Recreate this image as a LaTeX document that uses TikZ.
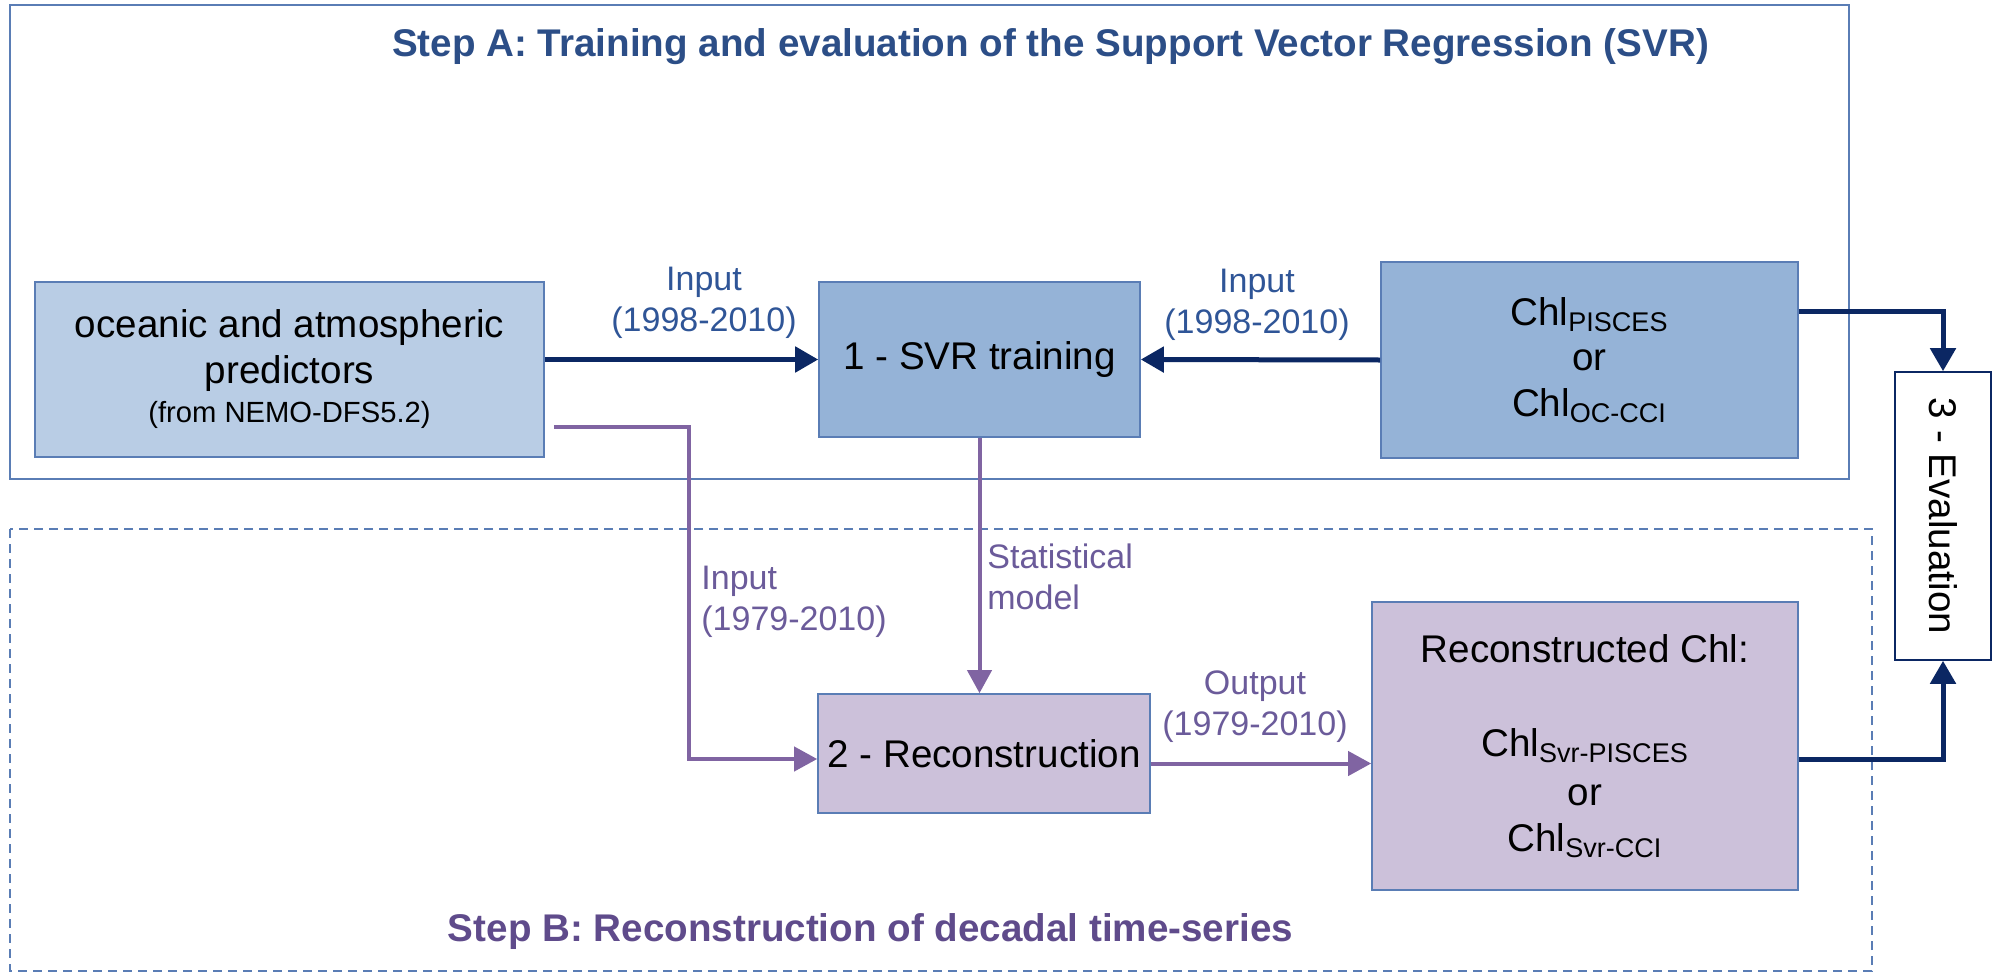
\documentclass[tikz,border=0pt]{standalone}
\usepackage{fontspec}
\setmainfont{Liberation Sans}
\usepackage{graphicx}
\usetikzlibrary{arrows.meta,calc}
\definecolor{titleA}{HTML}{2C4E87}
\definecolor{titleB}{HTML}{5F4B8B}
\definecolor{lblA}{HTML}{2F5597}
\definecolor{lblB}{HTML}{6B5B9A}
\definecolor{navy}{HTML}{0B2763}
\definecolor{purp}{HTML}{8064A2}
\definecolor{fillLB}{HTML}{B9CDE5}
\definecolor{fillMB}{HTML}{95B3D7}
\definecolor{fillPU}{HTML}{CCC1DA}
\definecolor{edge}{HTML}{5A7DB5}
\begin{document}
\begin{tikzpicture}[x=0.5pt,y=-0.5pt,
  box/.style={draw=edge,line width=0.8pt,inner sep=0pt,align=center,
    font=\fontsize{19.3}{22.75}\selectfont},
  navyarrow/.style={draw=navy,line width=2.5pt,-{Triangle[length=11.5pt,width=12.5pt]}},
  purparrow/.style={draw=purp,line width=2pt,-{Triangle[length=11.5pt,width=12pt]}},
  lbl/.style={inner sep=0pt,font=\fontsize{17}{20.5}\selectfont},
  ttl/.style={inner sep=0pt,font=\bfseries\fontsize{19.3}{23}\selectfont}]
\useasboundingbox (0,0) rectangle (1995,979);
% frames
\draw[edge,line width=1pt] (10,5) rectangle (1849,479);
\draw[edge,line width=0.75pt,dash pattern=on 4.5pt off 3pt] (10,529) rectangle (1872,971);
% titles
\node[ttl,text=titleA,anchor=base] (tA) at (1050.5,57) {Step A: Training and evaluation of the Support Vector Regression (SVR)};
\node[ttl,text=titleB,anchor=base] (tB) at (870.5,941) {Step B: Reconstruction of decadal time-series};
% boxes
\node[box,fill=fillLB,minimum width=254.5pt,minimum height=87.5pt] (pred) at (289.5,369.5)
  {oceanic and atmospheric\\predictors\\[-3pt]{\fontsize{14.6}{17}\selectfont (from NEMO-DFS5.2)}};
\node[box,fill=fillMB,minimum width=160.5pt,minimum height=77.5pt] (svr) at (979.5,359.5) {1 - SVR training};
\node[box,fill=fillMB,minimum width=208.5pt,minimum height=98pt] (chl) at (1589.5,360)
  {Chl\textsubscript{PISCES}\\or\\Chl\textsubscript{OC-CCI}};
\node[box,fill=fillPU,minimum width=166pt,minimum height=59.5pt] (recon) at (984,753.5) {2 - Reconstruction};
\node[box,fill=fillPU,minimum width=213pt,minimum height=144pt] (rchl) at (1585,746)
  {Reconstructed Chl:\\[24pt]Chl\textsubscript{Svr-PISCES}\\[2pt]or\\Chl\textsubscript{Svr-CCI}};
\node[box,draw=navy,fill=white,minimum width=48pt,minimum height=144pt] (eval) at (1943,516)
  {\rotatebox{-90}{3 - Evaluation}};
% connectors
\draw[navyarrow] (pred.east|-svr.west) -- (svr.west);
\draw[navyarrow] (chl.west) -- (svr.east);
\coordinate (chlout) at ($(chl.east)+(0,-49)$);
\draw[navyarrow] (chlout) -| (eval.north);
\coordinate (rchlout) at ($(rchl.east)+(0,13)$);
\draw[navyarrow] (rchlout) -| (eval.south);
\coordinate (pstart) at ($(pred.east)+(9,57.5)$);
\coordinate (pbend) at (689,759);
\draw[purparrow] (pstart) -| (pbend) -- (recon.west|-pbend);
\draw[purparrow] (svr.south) -- (svr.south|-recon.north);
\coordinate (rout) at ($(recon.east)+(0,10)$);
\draw[purparrow] (rout) -- (rchl.west|-rout);
% labels
\node[lbl,text=lblA,align=center,anchor=north] (l1) at (704,267) {Input\\(1998-2010)};
\node[lbl,text=lblA,align=center,anchor=north] (l2) at (1257,269) {Input\\(1998-2010)};
\node[lbl,text=lblB,align=left,anchor=north west] (l3) at (701,566) {Input\\(1979-2010)};
\node[lbl,text=lblB,align=left,anchor=north west] (l4) at (987,543) {Statistical\\model};
\node[lbl,text=lblB,align=center,anchor=north] (l5) at (1255,670) {Output\\(1979-2010)};
\end{tikzpicture}
\end{document}
